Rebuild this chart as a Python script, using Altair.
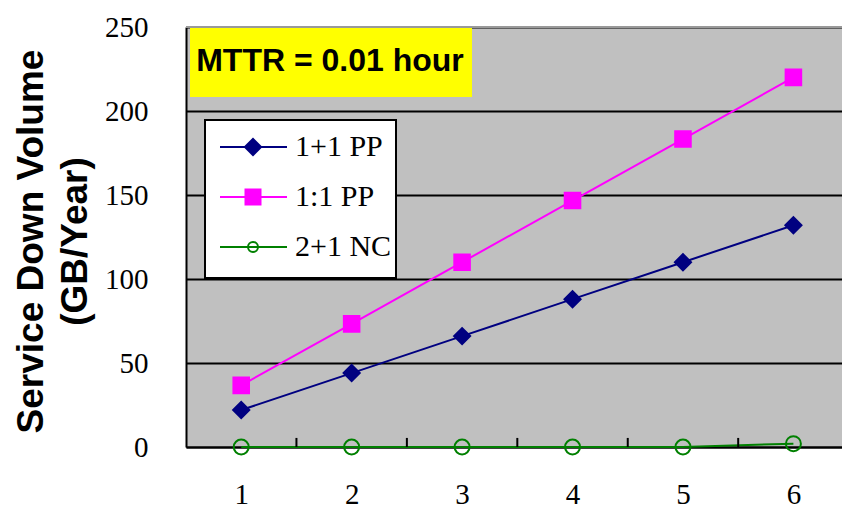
import altair as alt
import pandas as pd

# ---- data ----
x_vals = [1, 2, 3, 4, 5, 6]
pp11 = [22, 44, 66, 88, 110, 132]
pp1to1 = [36.7, 73.3, 110, 146.7, 183.3, 220]
nc21 = [0, 0, 0, 0, 0, 2]
series_names = ["1+1 PP", "1:1 PP", "2+1 NC"]
series_colors = ["#000080", "#FF00FF", "#008000"]
series_shapes = ["diamond", "square", "circle"]
series_fills = ["#000080", "#FF00FF", "transparent"]
series_sizes = [260, 225, 100]
y_ticks = [0, 50, 100, 150, 200, 250]
boundaries = [1.5, 2.5, 3.5, 4.5, 5.5]

rows = []
for name, vals in zip(series_names, [pp11, pp1to1, nc21]):
    for xv, yv in zip(x_vals, vals):
        rows.append({"x": xv, "y": yv, "series": name})
df = pd.DataFrame(rows)

leg = pd.DataFrame({
    "series": series_names,
    "color": series_colors,
    "shape": series_shapes,
    "fill": series_fills,
    "size": series_sizes,
    "row": [0, 1, 2],
})

W, H = 656, 420
xscale = alt.Scale(domain=[0.5, 6.44], nice=False, zero=False)
yscale = alt.Scale(domain=[0, 250], nice=False)
cscale = alt.Scale(domain=series_names, range=series_colors)

base = alt.Chart(df)

# top border line at 250 (grey)
top_rule = alt.Chart(pd.DataFrame({"y": [250]})).mark_rule(color="#999999", strokeWidth=2).encode(
    y=alt.Y("y:Q", scale=yscale)
)

# inward tick marks at category boundaries
tick_df = pd.DataFrame({"b": boundaries, "t0": [0] * len(boundaries), "t1": [5.4] * len(boundaries)})
ticks = alt.Chart(tick_df).mark_rule(color="black", strokeWidth=2).encode(
    x=alt.X("b:Q", scale=xscale),
    y=alt.Y("t0:Q", scale=yscale),
    y2="t1:Q",
)

lines = base.mark_line(strokeWidth=2).encode(
    x=alt.X("x:Q", scale=xscale,
            axis=alt.Axis(values=x_vals, format="d", ticks=False, grid=False,
                          domainColor="black", domainWidth=2, labelFont="Liberation Serif",
                          labelFontSize=29, labelColor="black", labelPadding=33,
                          labelFlush=False, title=None, zindex=0)),
    y=alt.Y("y:Q", scale=yscale,
            axis=alt.Axis(values=y_ticks, ticks=False, grid=True, gridColor="black",
                          gridWidth=2, domainColor="black", domainWidth=2,
                          labelFont="Liberation Serif", labelFontSize=29, labelColor="black",
                          labelPadding=38, labelBaseline="middle",
                          title=["Service Down Volume", "(GB/Year)"],
                          titleFont="Liberation Sans", titleFontWeight="bold",
                          titleFontSize=37, titleLineHeight=44, titleAngle=270,
                          titleX=-144, titleY=214, titleAlign="center",
                          titleBaseline="alphabetic", titleColor="black", zindex=0)),
    color=alt.Color("series:N", scale=cscale, legend=None),
    detail="series:N",
)

points = base.mark_point(strokeWidth=2, opacity=1).encode(
    x=alt.X("x:Q", scale=xscale),
    y=alt.Y("y:Q", scale=yscale),
    stroke=alt.Stroke("series:N", scale=cscale, legend=None),
    shape=alt.Shape("series:N", scale=alt.Scale(domain=series_names, range=series_shapes), legend=None),
    fill=alt.Fill("series:N", scale=alt.Scale(domain=series_names, range=series_fills), legend=None),
    size=alt.Size("series:N", scale=alt.Scale(domain=series_names, range=series_sizes), legend=None),
)

one = pd.DataFrame({"a": [0]})

# MTTR annotation box
mttr_box = alt.Chart(one).mark_rect(fill="#FFFF00", stroke=None).encode(
    x=alt.value(4), x2=alt.value(286), y=alt.value(1), y2=alt.value(70)
)
mttr_text = alt.Chart(one).mark_text(
    text="MTTR = 0.01 hour", font="Liberation Sans", fontWeight="bold", fontSize=32,
    align="center", baseline="middle", color="black"
).encode(x=alt.value(144), y=alt.value(34))

# manual legend
leg_box = alt.Chart(one).mark_rect(fill="white", stroke="black", strokeWidth=2).encode(
    x=alt.value(19), x2=alt.value(210), y=alt.value(93), y2=alt.value(251)
)
rowscale = alt.Scale(domain=[0, 2], range=[120, 220], nice=False, zero=False)
leg_lines = alt.Chart(leg).mark_rule(strokeWidth=2).encode(
    x=alt.value(34), x2=alt.value(101),
    y=alt.Y("row:Q", scale=rowscale, axis=None),
    color=alt.Color("color:N", scale=None),
)
leg_pts = alt.Chart(leg).mark_point(strokeWidth=2, opacity=1).encode(
    x=alt.value(67),
    y=alt.Y("row:Q", scale=rowscale, axis=None),
    stroke=alt.Stroke("color:N", scale=None),
    fill=alt.Fill("fill:N", scale=None),
    shape=alt.Shape("shape:N", scale=None),
    size=alt.Size("size:Q", scale=None),
)
leg_text = alt.Chart(leg).mark_text(
    font="Liberation Serif", fontSize=30, align="left", baseline="middle", color="black"
).encode(
    x=alt.value(109),
    y=alt.Y("row:Q", scale=rowscale, axis=None),
    text="series:N",
)

main = alt.layer(top_rule, lines, ticks, points, mttr_box, mttr_text)
legend_layer = alt.layer(leg_box, leg_lines, leg_pts, leg_text)

chart = alt.layer(main, legend_layer).resolve_scale(y="independent").properties(
    width=W, height=H,
    autosize=alt.AutoSizeParams(type="none"),
    padding={"left": 186, "top": 27, "right": 0, "bottom": 80},
    background="white",
).configure_view(fill="#C0C0C0", stroke=None)

chart.save("out.html", embed_options={"renderer": "svg", "actions": False})
